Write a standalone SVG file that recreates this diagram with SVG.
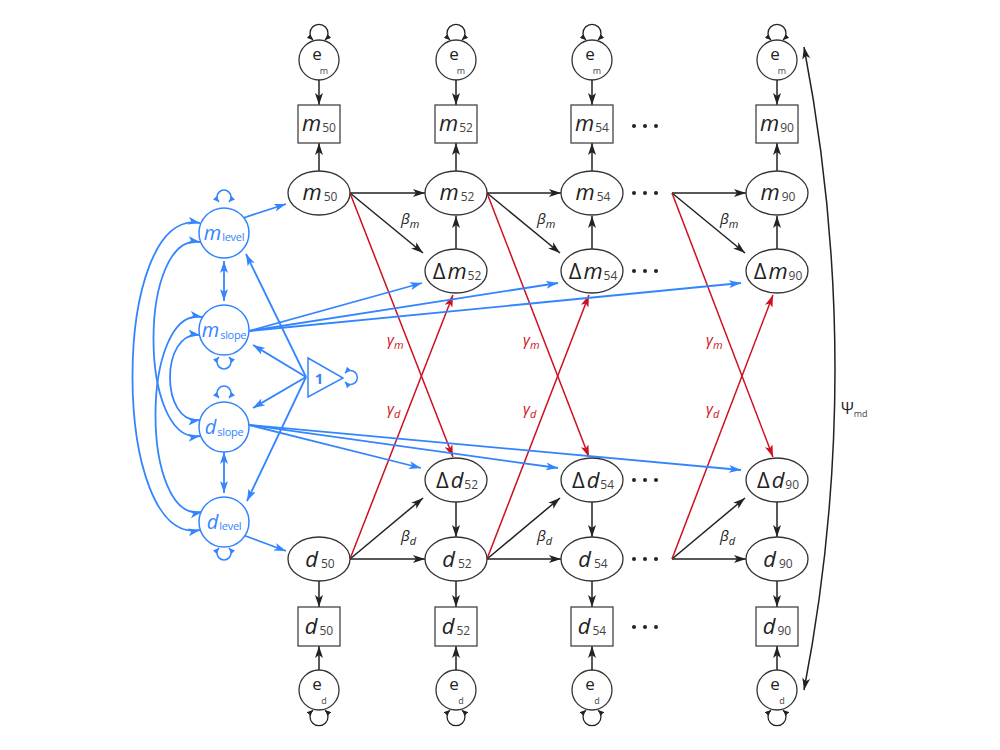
<svg xmlns="http://www.w3.org/2000/svg" width="1000" height="750" viewBox="0 0 1000 750">
<style>
.nd{fill:#fff;stroke:#333;stroke-width:1.3}
.bx{fill:#fff;stroke:#444;stroke-width:1.3}
.bn{fill:#fff;stroke:#3385ff;stroke-width:1.5}
.t{font-family:"Open Sans","Liberation Sans",sans-serif;fill:#222}
.it{font-style:italic;font-size:22px}
.sub{font-size:12px;fill:#444}
.e{font-size:17px}
.es{font-size:9px;fill:#444}
.bt{font-family:"Open Sans","Liberation Sans",sans-serif;fill:#3385ff}
.bit{font-style:italic;font-size:20px}
.bsub{font-size:11px;letter-spacing:-0.3px}
.gk{font-family:"Open Sans","Liberation Sans",sans-serif;font-style:italic;font-size:15px}
.k{fill:none;stroke:#222;stroke-width:1.5}
.b{fill:none;stroke:#3385ff;stroke-width:1.8}
.r{fill:none;stroke:#cc1020;stroke-width:1.5}
.lp{fill:none;stroke:#222;stroke-width:1.3}
.blp{fill:none;stroke:#3385ff;stroke-width:1.5}
.dot{fill:#222}
</style>
<defs>
<marker id="ak" viewBox="0 0 12 8" refX="12" refY="4" markerWidth="12" markerHeight="8" markerUnits="userSpaceOnUse" orient="auto-start-reverse"><path d="M0,0 L12,4 L0,8 L3,4 z" fill="#222"/></marker>
<marker id="ab" viewBox="0 0 12 8" refX="12" refY="4" markerWidth="12" markerHeight="8" markerUnits="userSpaceOnUse" orient="auto-start-reverse"><path d="M0,0 L12,4 L0,8 L3,4 z" fill="#3385ff"/></marker>
<marker id="ar" viewBox="0 0 12 8" refX="12" refY="4" markerWidth="12" markerHeight="8" markerUnits="userSpaceOnUse" orient="auto-start-reverse"><path d="M0,0 L12,4 L0,8 L3,4 z" fill="#cc1020"/></marker>
<marker id="sk" viewBox="0 0 6 5" refX="6" refY="2.5" markerWidth="6" markerHeight="5" markerUnits="userSpaceOnUse" orient="auto-start-reverse"><path d="M0,0 L6,2.5 L0,5 z" fill="#222"/></marker>
<marker id="sb" viewBox="0 0 6 5" refX="6" refY="2.5" markerWidth="6" markerHeight="5" markerUnits="userSpaceOnUse" orient="auto-start-reverse"><path d="M0,0 L6,2.5 L0,5 z" fill="#3385ff"/></marker>
</defs>

<g id="connectors">
<g class="k" marker-end="url(#ak)">
<path d="M319,80 V105"/><path d="M456,80 V105"/><path d="M592,80 V105"/><path d="M777,80 V105"/>
<path d="M319,171 V143"/><path d="M456,171 V143"/><path d="M592,171 V143"/><path d="M777,171 V143"/>
<path d="M456,249 V216"/><path d="M592,249 V216"/><path d="M777,249 V216"/>
<path d="M456,502 V537"/><path d="M592,502 V537"/><path d="M777,502 V537"/>
<path d="M319,581 V607"/><path d="M456,581 V607"/><path d="M592,581 V607"/><path d="M777,581 V607"/>
<path d="M319,670 V646"/><path d="M456,670 V646"/><path d="M592,670 V646"/><path d="M777,670 V646"/>
<path d="M350,193 H425"/><path d="M487,193 H561"/><path d="M672,193 H746"/>
<path d="M350,559 H425"/><path d="M487,559 H561"/><path d="M672,559 H746"/>
<path d="M350,193 L423,253"/><path d="M487,193 L560,253"/><path d="M672,193 L745,253"/>
<path d="M350,559 L423,498"/><path d="M487,559 L560,498"/><path d="M672,559 L745,498"/>
</g>
<g class="lp" marker-start="url(#sk)" marker-end="url(#sk)">
<path d="M313,40 A9,9 0 1 1 325,40"/><path d="M450,40 A9,9 0 1 1 462,40"/><path d="M586,40 A9,9 0 1 1 598,40"/><path d="M771,40 A9,9 0 1 1 783,40"/>
<path d="M313,710 A9,9 0 1 0 325,710"/><path d="M450,710 A9,9 0 1 0 462,710"/><path d="M586,710 A9,9 0 1 0 598,710"/><path d="M771,710 A9,9 0 1 0 783,710"/>
</g>
<g class="r" marker-end="url(#ar)">
<path d="M350,193 L453,457"/><path d="M487,193 L589,457"/><path d="M672,193 L773,457"/>
<path d="M350,559 L453,295"/><path d="M487,559 L589,295"/><path d="M672,559 L773,295"/>
</g>
<path class="k" d="M804,47 Q866,370 804,690" marker-start="url(#ak)" marker-end="url(#ak)"/>
<g class="b" marker-end="url(#ab)">
<path d="M243,218 L286,204"/><path d="M243,535 L286,551"/>
<path d="M249,331 L422,283"/><path d="M249,331 L558,283"/><path d="M249,331 L741,283"/>
<path d="M249,425 L421,468"/><path d="M249,425 L558,468"/><path d="M249,425 L741,470"/>
<path d="M306,377 L246,254"/><path d="M306,377 L253,345"/><path d="M306,377 L253,408"/><path d="M306,377 L247,501"/>
</g>
<g class="b" marker-start="url(#ab)" marker-end="url(#ab)">
<path d="M224,261 V301"/><path d="M224,452 V493"/>
<path d="M200,223 C110,205 110,548 200,530"/>
<path d="M200,242 C138,232 138,446 200,436"/>
<path d="M202,317 C140,306 140,524 202,512"/>
<path d="M200,335 C160,330 160,425 200,420"/>
</g>
<g class="blp" marker-start="url(#sb)" marker-end="url(#sb)">
<path d="M219,202 A7,7 0 1 1 229,202"/>
<path d="M219,357 A7,7 0 1 0 229,357"/>
<path d="M219,398 A7,7 0 1 1 229,398"/>
<path d="M219,548 A7,7 0 1 0 229,548"/>
<path d="M345,373 A7,7 0 1 1 345,382"/>
</g>
</g>

<g id="path-labels">
<text class="gk" x="401" y="224" fill="#222">β<tspan font-size="11" dy="4">m</tspan></text>
<text class="gk" x="537" y="224" fill="#222">β<tspan font-size="11" dy="4">m</tspan></text>
<text class="gk" x="720" y="224" fill="#222">β<tspan font-size="11" dy="4">m</tspan></text>
<text class="gk" x="401" y="541" fill="#222">β<tspan font-size="11" dy="4">d</tspan></text>
<text class="gk" x="537" y="541" fill="#222">β<tspan font-size="11" dy="4">d</tspan></text>
<text class="gk" x="720" y="541" fill="#222">β<tspan font-size="11" dy="4">d</tspan></text>
<text class="gk" x="387" y="345" fill="#cc1020">γ<tspan font-size="11" dy="4">m</tspan></text>
<text class="gk" x="523" y="345" fill="#cc1020">γ<tspan font-size="11" dy="4">m</tspan></text>
<text class="gk" x="706" y="345" fill="#cc1020">γ<tspan font-size="11" dy="4">m</tspan></text>
<text class="gk" x="387" y="414" fill="#cc1020">γ<tspan font-size="11" dy="4">d</tspan></text>
<text class="gk" x="523" y="414" fill="#cc1020">γ<tspan font-size="11" dy="4">d</tspan></text>
<text class="gk" x="706" y="414" fill="#cc1020">γ<tspan font-size="11" dy="4">d</tspan></text>
<text class="t" x="841" y="414" font-size="16">Ψ<tspan font-size="9" fill="#444" dy="3">md</tspan></text>
</g>

<g id="em50"><circle class="nd" cx="319" cy="60" r="20"/><text class="t e" x="317" y="60" text-anchor="middle">e</text><text class="t es" x="324" y="74" text-anchor="middle">m</text></g>
<g id="em52"><circle class="nd" cx="456" cy="60" r="20"/><text class="t e" x="454" y="60" text-anchor="middle">e</text><text class="t es" x="461" y="74" text-anchor="middle">m</text></g>
<g id="em54"><circle class="nd" cx="592" cy="60" r="20"/><text class="t e" x="590" y="60" text-anchor="middle">e</text><text class="t es" x="597" y="74" text-anchor="middle">m</text></g>
<g id="em90"><circle class="nd" cx="777" cy="60" r="20"/><text class="t e" x="775" y="60" text-anchor="middle">e</text><text class="t es" x="782" y="74" text-anchor="middle">m</text></g>
<g id="ed50"><circle class="nd" cx="319" cy="690" r="20"/><text class="t e" x="317" y="690" text-anchor="middle">e</text><text class="t es" x="324" y="704" text-anchor="middle">d</text></g>
<g id="ed52"><circle class="nd" cx="456" cy="690" r="20"/><text class="t e" x="454" y="690" text-anchor="middle">e</text><text class="t es" x="461" y="704" text-anchor="middle">d</text></g>
<g id="ed54"><circle class="nd" cx="592" cy="690" r="20"/><text class="t e" x="590" y="690" text-anchor="middle">e</text><text class="t es" x="597" y="704" text-anchor="middle">d</text></g>
<g id="ed90"><circle class="nd" cx="777" cy="690" r="20"/><text class="t e" x="775" y="690" text-anchor="middle">e</text><text class="t es" x="782" y="704" text-anchor="middle">d</text></g>

<g id="bm50"><rect class="bx" x="298" y="105" width="42" height="38"/><text class="t" x="319" y="131" text-anchor="middle"><tspan class="it">m</tspan><tspan class="sub" dx="1" dy="1">50</tspan></text></g>
<g id="bm52"><rect class="bx" x="435" y="105" width="42" height="38"/><text class="t" x="456" y="131" text-anchor="middle"><tspan class="it">m</tspan><tspan class="sub" dx="1" dy="1">52</tspan></text></g>
<g id="bm54"><rect class="bx" x="571" y="105" width="42" height="38"/><text class="t" x="592" y="131" text-anchor="middle"><tspan class="it">m</tspan><tspan class="sub" dx="1" dy="1">54</tspan></text></g>
<g id="bm90"><rect class="bx" x="756" y="105" width="42" height="38"/><text class="t" x="777" y="131" text-anchor="middle"><tspan class="it">m</tspan><tspan class="sub" dx="1" dy="1">90</tspan></text></g>
<g id="bd50"><rect class="bx" x="298" y="607" width="42" height="39"/><text class="t" x="319" y="634" text-anchor="middle"><tspan class="it">d</tspan><tspan class="sub" dx="2" dy="1">50</tspan></text></g>
<g id="bd52"><rect class="bx" x="435" y="607" width="42" height="39"/><text class="t" x="456" y="634" text-anchor="middle"><tspan class="it">d</tspan><tspan class="sub" dx="2" dy="1">52</tspan></text></g>
<g id="bd54"><rect class="bx" x="571" y="607" width="42" height="39"/><text class="t" x="592" y="634" text-anchor="middle"><tspan class="it">d</tspan><tspan class="sub" dx="2" dy="1">54</tspan></text></g>
<g id="bd90"><rect class="bx" x="756" y="607" width="42" height="39"/><text class="t" x="777" y="634" text-anchor="middle"><tspan class="it">d</tspan><tspan class="sub" dx="2" dy="1">90</tspan></text></g>

<g id="m50"><ellipse class="nd" cx="319" cy="193" rx="31" ry="22"/><text class="t" x="320" y="200" text-anchor="middle"><tspan class="it">m</tspan><tspan class="sub" dx="2" dy="1">50</tspan></text></g>
<g id="m52"><ellipse class="nd" cx="456" cy="193" rx="31" ry="22"/><text class="t" x="457" y="200" text-anchor="middle"><tspan class="it">m</tspan><tspan class="sub" dx="2" dy="1">52</tspan></text></g>
<g id="m54"><ellipse class="nd" cx="592" cy="193" rx="31" ry="22"/><text class="t" x="593" y="200" text-anchor="middle"><tspan class="it">m</tspan><tspan class="sub" dx="2" dy="1">54</tspan></text></g>
<g id="m90"><ellipse class="nd" cx="777" cy="193" rx="31" ry="22"/><text class="t" x="778" y="200" text-anchor="middle"><tspan class="it">m</tspan><tspan class="sub" dx="2" dy="1">90</tspan></text></g>
<g id="dm52"><ellipse class="nd" cx="456" cy="271" rx="31" ry="22"/><text class="t" x="457" y="279" text-anchor="middle"><tspan font-size="22">Δ</tspan><tspan class="it" dx="2">m</tspan><tspan class="sub" dx="1" dy="1">52</tspan></text></g>
<g id="dm54"><ellipse class="nd" cx="592" cy="271" rx="31" ry="22"/><text class="t" x="593" y="279" text-anchor="middle"><tspan font-size="22">Δ</tspan><tspan class="it" dx="2">m</tspan><tspan class="sub" dx="1" dy="1">54</tspan></text></g>
<g id="dm90"><ellipse class="nd" cx="777" cy="271" rx="31" ry="22"/><text class="t" x="778" y="279" text-anchor="middle"><tspan font-size="22">Δ</tspan><tspan class="it" dx="2">m</tspan><tspan class="sub" dx="1" dy="1">90</tspan></text></g>

<g id="dd52"><ellipse class="nd" cx="456" cy="480" rx="31" ry="22"/><text class="t" x="457" y="488" text-anchor="middle"><tspan font-size="22">Δ</tspan><tspan class="it" dx="2">d</tspan><tspan class="sub" dx="1" dy="1">52</tspan></text></g>
<g id="dd54"><ellipse class="nd" cx="592" cy="480" rx="31" ry="22"/><text class="t" x="593" y="488" text-anchor="middle"><tspan font-size="22">Δ</tspan><tspan class="it" dx="2">d</tspan><tspan class="sub" dx="1" dy="1">54</tspan></text></g>
<g id="dd90"><ellipse class="nd" cx="777" cy="480" rx="31" ry="22"/><text class="t" x="778" y="488" text-anchor="middle"><tspan font-size="22">Δ</tspan><tspan class="it" dx="2">d</tspan><tspan class="sub" dx="1" dy="1">90</tspan></text></g>
<g id="d50"><ellipse class="nd" cx="319" cy="559" rx="31" ry="22"/><text class="t" x="320" y="567" text-anchor="middle"><tspan class="it">d</tspan><tspan class="sub" dx="3" dy="1">50</tspan></text></g>
<g id="d52"><ellipse class="nd" cx="456" cy="559" rx="31" ry="22"/><text class="t" x="457" y="567" text-anchor="middle"><tspan class="it">d</tspan><tspan class="sub" dx="3" dy="1">52</tspan></text></g>
<g id="d54"><ellipse class="nd" cx="592" cy="559" rx="31" ry="22"/><text class="t" x="593" y="567" text-anchor="middle"><tspan class="it">d</tspan><tspan class="sub" dx="3" dy="1">54</tspan></text></g>
<g id="d90"><ellipse class="nd" cx="777" cy="559" rx="31" ry="22"/><text class="t" x="778" y="567" text-anchor="middle"><tspan class="it">d</tspan><tspan class="sub" dx="3" dy="1">90</tspan></text></g>

<g id="dots">
<circle class="dot" cx="634" cy="126" r="2"/><circle class="dot" cx="645" cy="126" r="2"/><circle class="dot" cx="656" cy="126" r="2"/>
<circle class="dot" cx="634" cy="193" r="2"/><circle class="dot" cx="645" cy="193" r="2"/><circle class="dot" cx="656" cy="193" r="2"/>
<circle class="dot" cx="634" cy="271" r="2"/><circle class="dot" cx="645" cy="271" r="2"/><circle class="dot" cx="656" cy="271" r="2"/>
<circle class="dot" cx="634" cy="480" r="2"/><circle class="dot" cx="645" cy="480" r="2"/><circle class="dot" cx="656" cy="480" r="2"/>
<circle class="dot" cx="634" cy="559" r="2"/><circle class="dot" cx="645" cy="559" r="2"/><circle class="dot" cx="656" cy="559" r="2"/>
<circle class="dot" cx="634" cy="627" r="2"/><circle class="dot" cx="645" cy="627" r="2"/><circle class="dot" cx="656" cy="627" r="2"/>
</g>

<g id="mlevel"><circle class="bn" cx="224" cy="233" r="25"/><text class="bt" x="224" y="240" text-anchor="middle"><tspan class="bit">m</tspan><tspan class="bsub" dx="1" dy="1">level</tspan></text></g>
<g id="mslope"><circle class="bn" cx="224" cy="330" r="25"/><text class="bt" x="224" y="337" text-anchor="middle"><tspan class="bit">m</tspan><tspan class="bsub" dx="1" dy="2">slope</tspan></text></g>
<g id="dslope"><circle class="bn" cx="224" cy="427" r="25"/><text class="bt" x="224" y="434" text-anchor="middle"><tspan class="bit">d</tspan><tspan class="bsub" dx="1" dy="2">slope</tspan></text></g>
<g id="dlevel"><circle class="bn" cx="224" cy="522" r="25"/><text class="bt" x="224" y="529" text-anchor="middle"><tspan class="bit">d</tspan><tspan class="bsub" dx="1" dy="1">level</tspan></text></g>
<g id="const"><path class="bn" d="M308,358 L343,378 L308,397 Z"/><text class="bt" x="319" y="384" text-anchor="middle" font-size="15" font-weight="bold">1</text></g>
</svg>
